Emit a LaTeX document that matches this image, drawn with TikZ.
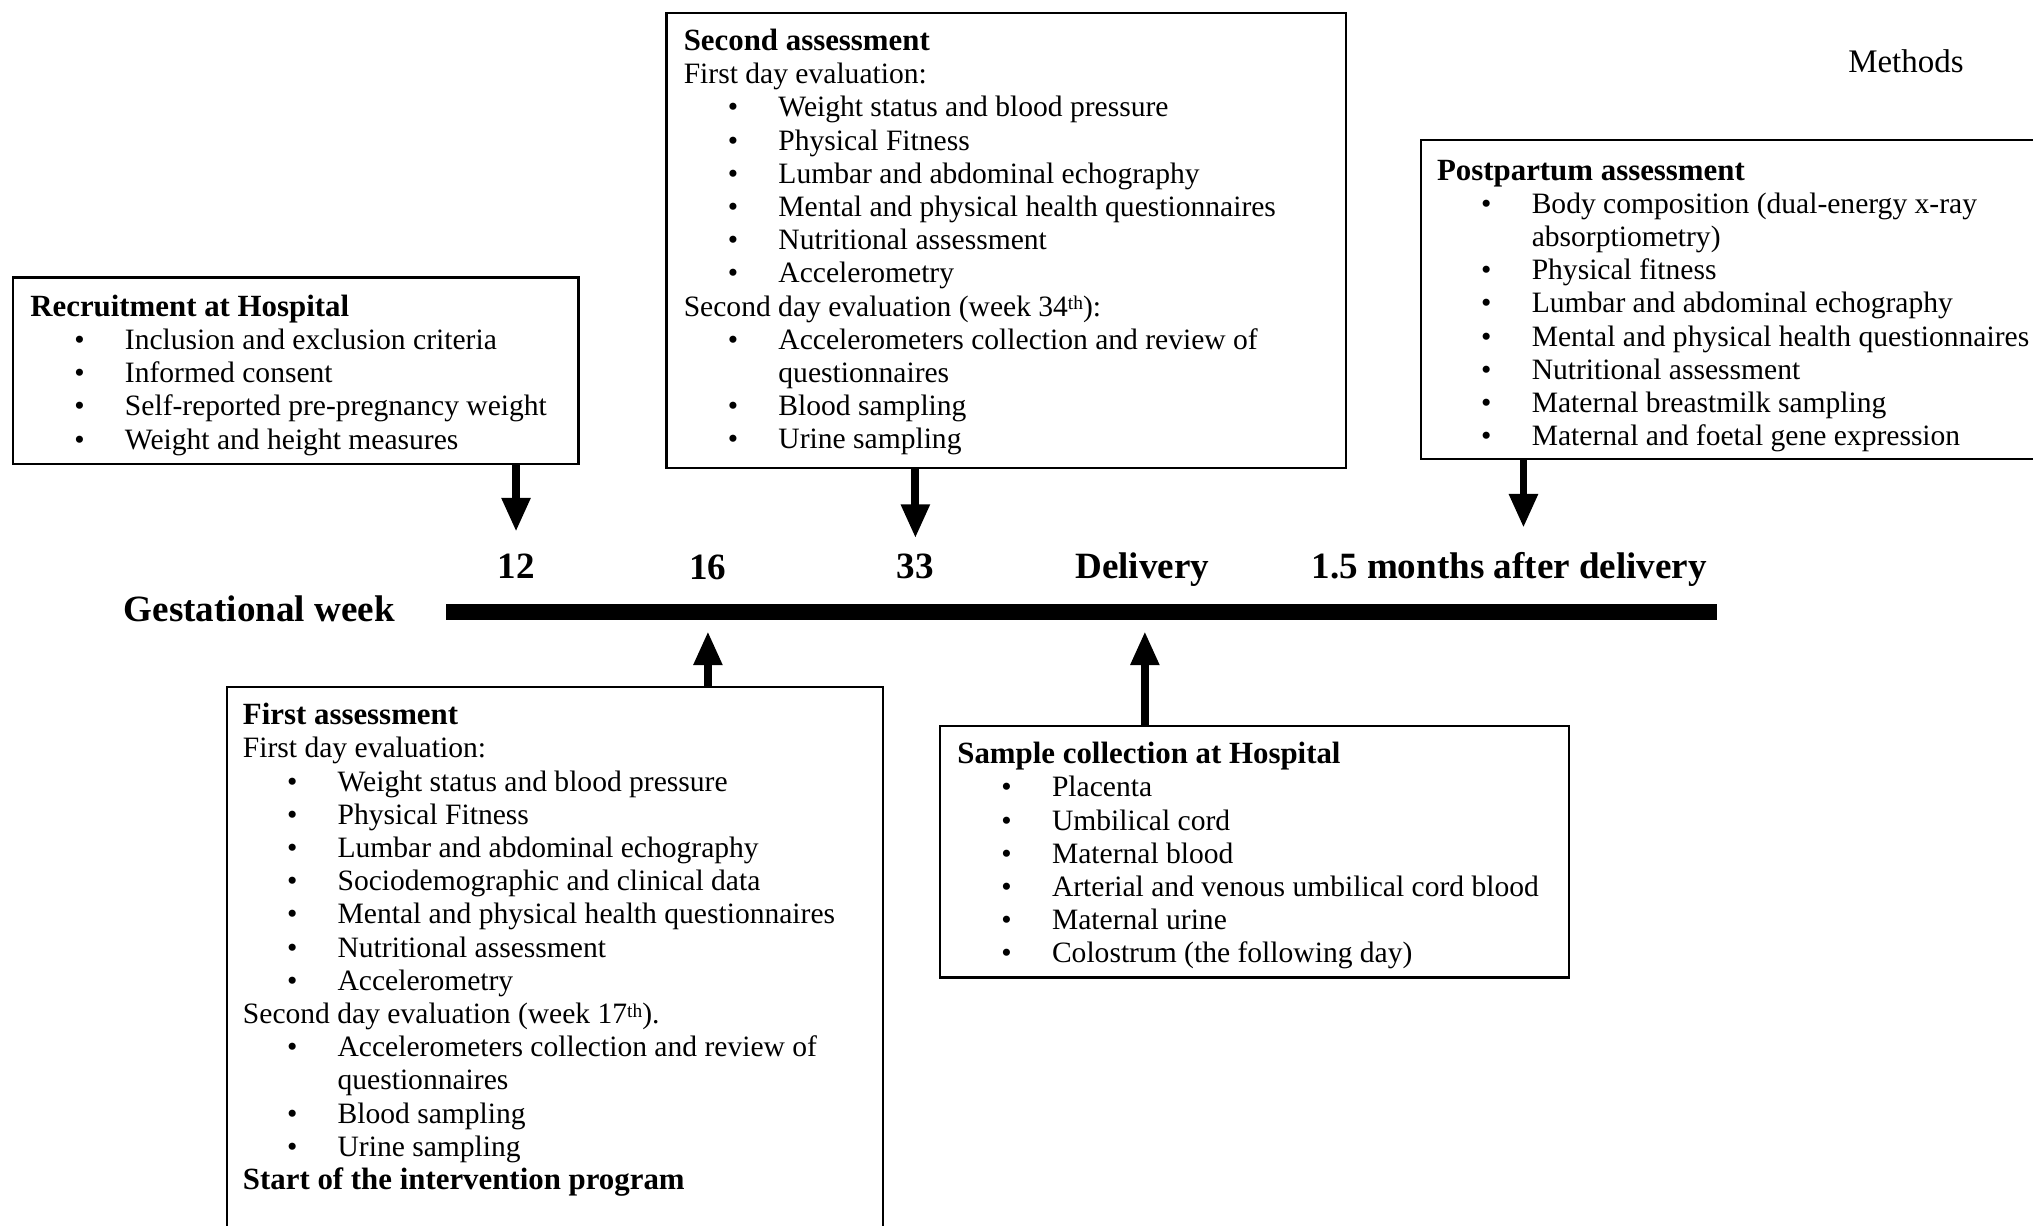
\documentclass[tikz,border=0pt]{standalone}
\usepackage{fontspec}
\setmainfont{Liberation Serif}
\usetikzlibrary{arrows.meta,fit}
\newcommand\bodyfont{\fontsize{11.4pt}{12.8pt}\selectfont}
\newcommand\labfont{\fontsize{14.3pt}{16pt}\selectfont\bfseries}
\newcommand\ttl[1]{{\fontsize{11.9pt}{12.8pt}\selectfont\bfseries #1}}
\newcommand\bul[1]{\hspace*{17pt}\makebox[19.5pt][l]{\textbullet}#1}
\newcommand\cnt[1]{\hspace*{36.5pt}#1}
\newcommand\sups[1]{\raisebox{0.45ex}{\fontsize{7.5pt}{8pt}\selectfont #1}}
\tikzset{
  box/.style={draw, line width=1pt, inner sep=0pt},
  txt/.style={inner sep=0pt, anchor=base west, font=\bodyfont},
  lab/.style={inner sep=0pt, anchor=base, font=\labfont},
  arr/.style={line width=3pt, -{Triangle[width=10.5pt,length=13pt]}},
}
\begin{document}
\begin{tikzpicture}[x=0.5pt, y=-0.5pt]
\useasboundingbox (0,0) rectangle (1568,945);
\clip (0,0) rectangle (1568,945);
\fill[white] (0,0) rectangle (1568,945);

% boxes
\node[box, fit={(10,214) (446,358)}] (rec) {};
\node[box, fit={(514,10) (1038,361)}] (sec) {};
\node[box, fit={(1096,108) (1600,354)}] (post) {};
\node[box, fit={(175,530) (681,990)}] (first) {};
\node[box, fit={(725,560) (1210,754)}] (samp) {};

% box texts
\node[txt] (rect) at (23,244) {\parbox[t]{220pt}{%
\ttl{Recruitment at Hospital}\\
\bul{Inclusion and exclusion criteria}\\
\bul{Informed consent}\\
\bul{Self-reported pre-pregnancy weight}\\
\bul{Weight and height measures}}};

\node[txt] (sect) at (527,39) {\parbox[t]{260pt}{%
\ttl{Second assessment}\\
First day evaluation:\\
\bul{Weight status and blood pressure}\\
\bul{Physical Fitness}\\
\bul{Lumbar and abdominal echography}\\
\bul{Mental and physical health questionnaires}\\
\bul{Nutritional assessment}\\
\bul{Accelerometry}\\
Second day evaluation (week 34\sups{th}):\\
\bul{Accelerometers collection and review of}\\
\cnt{questionnaires}\\
\bul{Blood sampling}\\
\bul{Urine sampling}}};

\node[txt] (postt) at (1108,139) {\parbox[t]{260pt}{%
\ttl{Postpartum assessment}\\
\bul{Body composition (dual-energy x-ray}\\
\cnt{absorptiometry)}\\
\bul{Physical fitness}\\
\bul{Lumbar and abdominal echography}\\
\bul{Mental and physical health questionnaires}\\
\bul{Nutritional assessment}\\
\bul{Maternal breastmilk sampling}\\
\bul{Maternal and foetal gene expression}}};

\node[txt] (firstt) at (187,559) {\parbox[t]{260pt}{%
\ttl{First assessment}\\
First day evaluation:\\
\bul{Weight status and blood pressure}\\
\bul{Physical Fitness}\\
\bul{Lumbar and abdominal echography}\\
\bul{Sociodemographic and clinical data}\\
\bul{Mental and physical health questionnaires}\\
\bul{Nutritional assessment}\\
\bul{Accelerometry}\\
Second day evaluation (week 17\sups{th}).\\
\bul{Accelerometers collection and review of}\\
\cnt{questionnaires}\\
\bul{Blood sampling}\\
\bul{Urine sampling}\\
\ttl{Start of the intervention program}}};

\node[txt] (sampt) at (738,589) {\parbox[t]{260pt}{%
\ttl{Sample collection at Hospital}\\
\bul{Placenta}\\
\bul{Umbilical cord}\\
\bul{Maternal blood}\\
\bul{Arterial and venous umbilical cord blood}\\
\bul{Maternal urine}\\
\bul{Colostrum (the following day)}}};

\node[inner sep=0pt, anchor=base, font=\fontsize{12.7pt}{14pt}\selectfont] (methods) at (1470,56) {Methods};

% timeline
\coordinate (tlL) at (344,472);
\coordinate (tlR) at (1324,472);
\draw[line width=6pt] (tlL) -- (tlR);
\node[lab] (gw) at (200,479) {Gestational week};
\node[lab] (w12) at (398,446) {12};
\node[lab] (w16) at (546,447) {16};
\node[lab] (w33) at (706,446) {33};
\node[lab] (wdel) at (881,446) {Delivery};
\node[lab] (wpost) at (1164,446) {1.5 months after delivery};

% arrow tips
\coordinate (t12) at (398,410);
\coordinate (t33) at (706,415);
\coordinate (tpost) at (1175,407);
\coordinate (t16) at (546,487);
\coordinate (tdel) at (883,487);

\draw[arr] (rec.south -| t12) -- (t12);
\draw[arr] (sec.south -| t33) -- (t33);
\draw[arr] (post.south -| tpost) -- (tpost);
\draw[arr] (first.north -| t16) -- (t16);
\draw[arr] (samp.north -| tdel) -- (tdel);
\end{tikzpicture}
\end{document}
